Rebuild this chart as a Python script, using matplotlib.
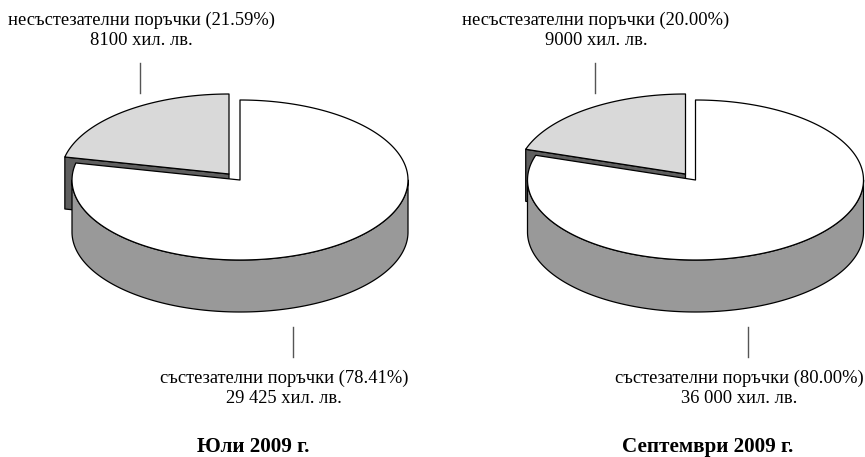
import numpy as np
import matplotlib
matplotlib.use("Agg")
import matplotlib.pyplot as plt

titles = ["Юли 2009 г.", "Септември 2009 г."]
share_noncomp = [21.59, 20.00]
share_comp = [78.41, 80.00]
amount_noncomp = ["8100 хил. лв.", "9000 хил. лв."]
amount_comp = ["29 425 хил. лв.", "36 000 хил. лв."]

plt.rcParams['font.family'] = ['Liberation Serif', 'DejaVu Serif']

# pixel layout of each pie
centers_x = [240, 695.5]
center_y = 180
rx = 168
ry = 80
depth = 52
explode_x = [-11, -10]
explode_y = -6
top_tick_x = [140, 595]
bottom_tick_x = [293, 747.5]
top_label_x = [141.5, 596]
bottom_label_x = [284, 739]
title_x = [253.5, 708]

LIGHT = "#d9d9d9"
MID = "#999999"
DARK = "#5f5f5f"
LABEL_SIZE = 13.35
TITLE_SIZE = 15.2


def arc(cx, cy, t0, t1, n=200):
    # t is clockwise from 12 o'clock, in degrees
    t = np.radians(np.linspace(t0, t1, n))
    return np.column_stack([cx + rx * np.sin(t), cy - ry * np.cos(t)])


def label(x, y, s, size=LABEL_SIZE, weight="normal"):
    ax.text(x, y, s, ha="center", va="baseline", fontsize=size, fontweight=weight)


fig = plt.figure(figsize=(8.65, 4.57), dpi=100)
ax = fig.add_axes([0, 0, 1, 1])
ax.set_xlim(0, 865)
ax.set_ylim(457, 0)
ax.axis("off")

for i in range(2):
    cx = centers_x[i]
    angle = share_comp[i] / (share_comp[i] + share_noncomp[i]) * 360
    sx = cx + explode_x[i]
    sy = center_y + explode_y
    style = dict(edgecolor="black", linewidth=0.9, joinstyle="round")

    # cut face of the pulled out slice
    tip = arc(sx, sy, angle, angle, 1)[0]
    wall = [tip, (sx, sy), (sx, sy + depth), (tip[0], tip[1] + depth)]
    ax.add_patch(plt.Polygon(wall, facecolor=DARK, **style))

    # main slice: side then top
    front = arc(cx, center_y, 90, 270)
    side = np.vstack([front, (front + [0, depth])[::-1]])
    ax.add_patch(plt.Polygon(side, facecolor=MID, **style))
    top = np.vstack([[(cx, center_y)], arc(cx, center_y, 0, angle)])
    ax.add_patch(plt.Polygon(top, facecolor="white", **style))

    # small slice top
    top2 = np.vstack([[(sx, sy)], arc(sx, sy, angle, 360)])
    ax.add_patch(plt.Polygon(top2, facecolor=LIGHT, **style))

    # leader lines
    ax.plot([top_tick_x[i]] * 2, [63, 93], color="#555555", lw=1)
    ax.plot([bottom_tick_x[i]] * 2, [327, 357], color="#555555", lw=1)

    label(top_label_x[i], 25, "несъстезателни поръчки (%.2f%%)" % share_noncomp[i])
    label(top_label_x[i], 45, amount_noncomp[i])
    label(bottom_label_x[i], 383, "състезателни поръчки (%.2f%%)" % share_comp[i])
    label(bottom_label_x[i], 403, amount_comp[i])
    label(title_x[i], 452, titles[i], TITLE_SIZE, "bold")

fig.savefig("out.png", dpi=100)
